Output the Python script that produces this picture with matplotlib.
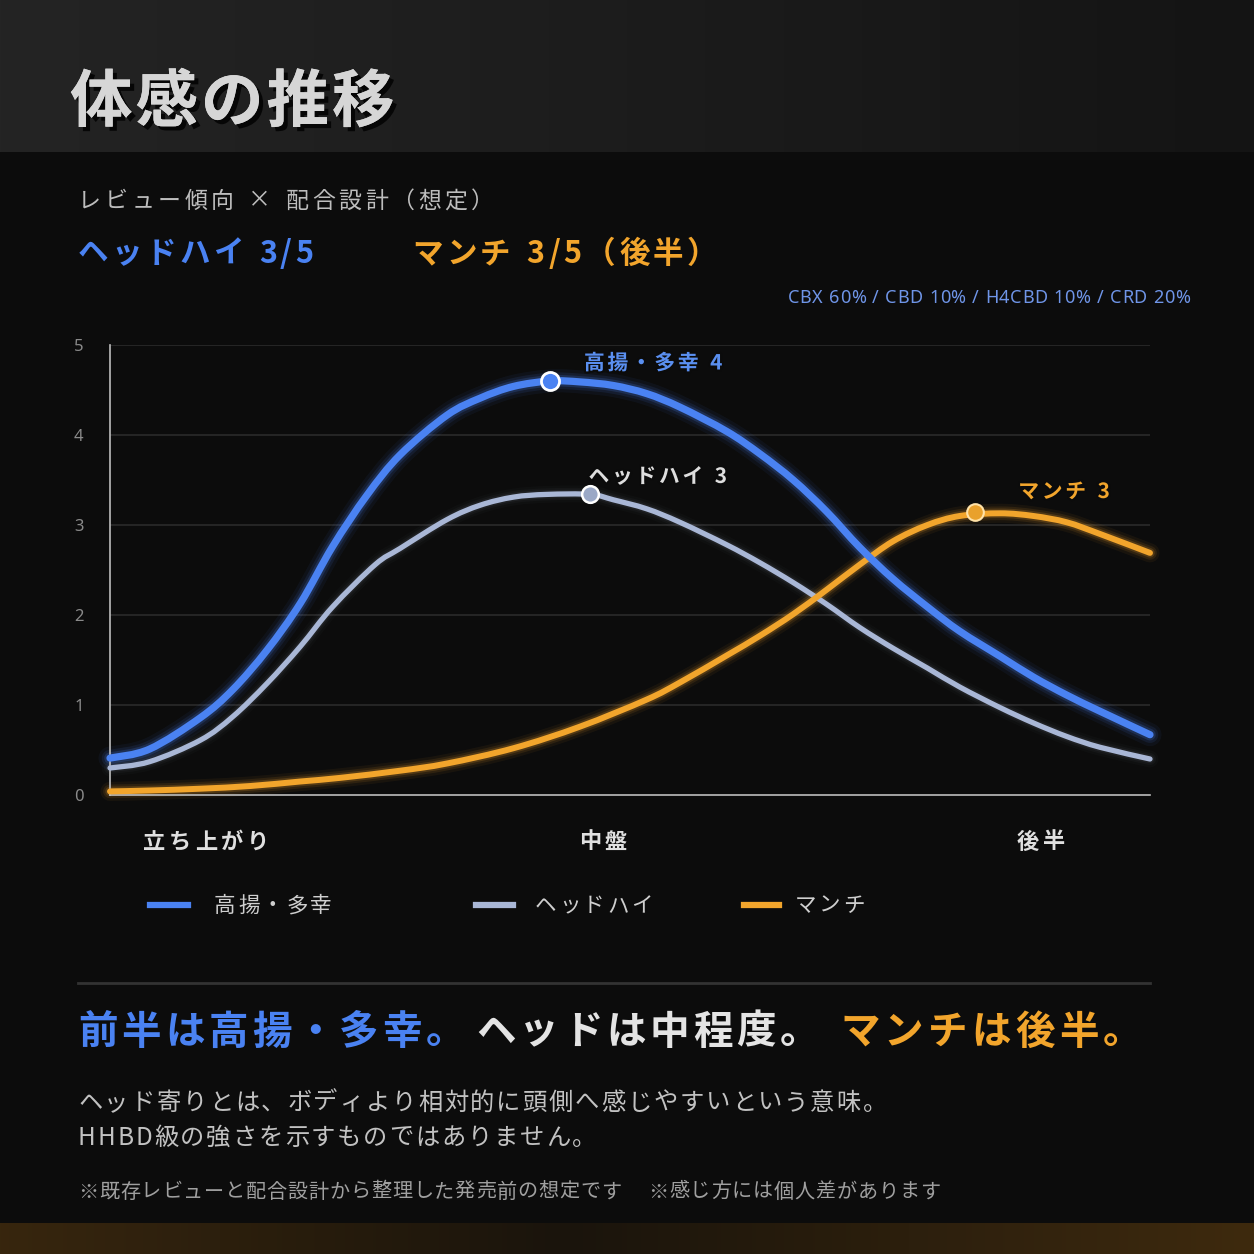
import numpy as np
import matplotlib
matplotlib.use("Agg")
import matplotlib.pyplot as plt
import matplotlib.patheffects as pe
from matplotlib.path import Path
from matplotlib.patches import PathPatch

plt.rcParams['font.family'] = ['Noto Sans CJK JP', 'DejaVu Sans']

# ---------------- data ----------------
# timeline position (0 = start, 100 = end)
t_blue = [0, 3.8, 8.7, 11.8, 15.1, 18.3, 21.4, 24.7, 27.9, 32.4, 35.6, 38.8, 42.3, 45.2,
          48.4, 51.6, 54.8, 59.3, 62.5, 65.7, 68.9, 72.1, 75.3, 78.6, 81.7, 85.6, 88.8,
          92.0, 95.2, 100]
v_blue = [0.41, 0.51, 0.86, 1.17, 1.61, 2.13, 2.76, 3.33, 3.78, 4.22, 4.41, 4.54, 4.60, 4.59,
          4.55, 4.46, 4.31, 4.04, 3.79, 3.50, 3.15, 2.75, 2.40, 2.09, 1.82, 1.54, 1.31,
          1.11, 0.93, 0.67]

t_gray = [0, 3.8, 8.7, 11.8, 15.1, 18.3, 21.4, 25.5, 27.9, 32.4, 35.6, 38.8, 42.0, 46.2,
          48.4, 51.6, 54.8, 59.3, 62.5, 65.7, 68.9, 72.1, 75.3, 78.6, 81.7, 85.6, 88.8,
          92.0, 95.2, 100]
v_gray = [0.30, 0.37, 0.61, 0.87, 1.24, 1.65, 2.09, 2.56, 2.74, 3.06, 3.22, 3.31, 3.34, 3.34,
          3.28, 3.18, 3.03, 2.78, 2.58, 2.36, 2.12, 1.86, 1.63, 1.41, 1.20, 0.97, 0.80,
          0.65, 0.53, 0.40]

t_orange = [0, 3.8, 8.7, 13.5, 18.3, 22.1, 27.9, 32.4, 38.8, 45.2, 51.6, 54.8, 59.3, 62.5,
            65.7, 68.9, 72.1, 75.3, 78.6, 81.7, 85.6, 88.8, 92.0, 95.2, 100]
v_orange = [0.04, 0.05, 0.07, 0.10, 0.15, 0.19, 0.27, 0.35, 0.52, 0.76, 1.06, 1.25, 1.55, 1.77,
            2.01, 2.28, 2.56, 2.82, 3.00, 3.10, 3.13, 3.10, 3.03, 2.90, 2.69]

# highlighted points
peak_t = [42.3, 46.2, 83.2]
peak_v = [4.60, 3.34, 3.15]
peak_labels = ['高揚・多幸 4', 'ヘッドハイ 3', 'マンチ 3']

series_names = ['高揚・多幸', 'ヘッドハイ', 'マンチ']
phase_labels = ['立ち上がり', '中盤', '後半']
y_ticks = [0, 1, 2, 3, 4, 5]

BLUE = '#4a82f2'
GRAY = '#a9b7d6'
ORANGE = '#f2a52c'

W = H = 1254
fig = plt.figure(figsize=(W / 100, H / 100), dpi=100)
fig.patch.set_facecolor('#0c0c0c')
R = fig.canvas.get_renderer()


def tracked(x, y, s, size, color, weight='normal', track=0.0, ha='left', family=None, effects=None, z=5):
    """Draw text char by char with extra spacing; x, y in figure pixels from top-left."""
    kw = dict(fontsize=size, fontweight=weight, color=color, va='center', ha='left', zorder=z)
    if family:
        kw['family'] = family
    widths = []
    for ch in s:
        if ch == ' ':
            widths.append(size * 100 / 72 * 0.3)
            continue
        tmp = fig.text(0, 0, ch, **kw)
        widths.append(tmp.get_window_extent(R).width)
        tmp.remove()
    total = sum(widths) + track * (len(s) - 1)
    if ha == 'right':
        x -= total
    elif ha == 'center':
        x -= total / 2
    for ch, w in zip(s, widths):
        if ch != ' ':
            t = fig.text(x / W, 1 - y / H, ch, **kw)
            if effects:
                t.set_path_effects(effects)
        x += w + track


# ---------------- background ----------------
bg = np.zeros((H, W, 3))
bg[:, :] = np.array([12, 12, 12]) / 255
xs = np.linspace(0, 1, W)
hdr = (np.array([36, 36, 36])[None, :] * (1 - xs[:, None]) + np.array([20, 20, 20])[None, :] * xs[:, None]) / 255
bg[:152, :, :] = hdr[None, :, :]
wgt = np.clip(np.abs(xs - 0.45) / 0.55, 0, 1)[:, None]
strip = (np.array([26, 20, 12])[None, :] * (1 - wgt) + np.array([62, 42, 14])[None, :] * wgt) / 255
bg[1223:, :, :] = strip[None, :, :]
bax = fig.add_axes([0, 0, 1, 1], zorder=-10)
bax.imshow(bg, aspect='auto', extent=[0, 1, 0, 1], origin='upper')
bax.axis('off')

# ---------------- header texts ----------------
tracked(70, 103, '体感の推移', 45, '#d6d6d6', weight='bold', track=3,
        effects=[pe.withSimplePatchShadow(offset=(3, -3), shadow_rgbFace='black', alpha=0.8), pe.Normal()])
tracked(78, 201, 'レビュー傾向 × 配合設計（想定）', 16.5, '#bdbdbd', track=3.7)
tracked(78, 254, 'ヘッドハイ 3/5', 22, BLUE, weight='bold', track=3.2)
tracked(412, 254, 'マンチ 3/5（後半）', 22, ORANGE, weight='bold', track=3.5)
tracked(1190, 298, 'CBX 60% / CBD 10% / H4CBD 10% / CRD 20%', 13, '#6f95e8', track=0.5,
        ha='right', family=['Noto Sans', 'DejaVu Sans'])

# ---------------- chart ----------------
ax = fig.add_axes([110 / W, 1 - 795 / H, 1040 / W, 450 / H])
ax.set_facecolor('none')
ax.set_xlim(0, 100)
ax.set_ylim(0, 5)
for s in ['top', 'right']:
    ax.spines[s].set_visible(False)
for s in ['left', 'bottom']:
    ax.spines[s].set_color('#bdbdbd')
    ax.spines[s].set_linewidth(1.2)
ax.set_yticks(y_ticks)
ax.set_yticklabels([str(v) for v in y_ticks], family=['Noto Sans', 'DejaVu Sans'])
ax.tick_params(axis='y', length=0, pad=19, labelsize=12, labelcolor='#8a8a8a')
ax.set_xticks([])
for v in y_ticks[1:]:
    ax.axhline(v, color='#2b2b2b', lw=1.2, zorder=0)


def smooth_path(t, v):
    pts = np.column_stack([t, v]).astype(float)
    n = len(pts)
    verts = [pts[0]]
    codes = [Path.MOVETO]
    for i in range(n - 1):
        p0 = pts[i - 1] if i > 0 else pts[i]
        p1 = pts[i]
        p2 = pts[i + 1]
        p3 = pts[i + 2] if i + 2 < n else pts[i + 1]
        verts += [p1 + (p2 - p0) / 6, p2 - (p3 - p1) / 6, p2]
        codes += [Path.CURVE4] * 3
    return Path(verts, codes)


def glow_line(t, v, color, lw, glow):
    path = smooth_path(t, v)
    for k, a in [(3.2, 0.06 * glow), (2.3, 0.10 * glow), (1.6, 0.18 * glow)]:
        ax.add_patch(PathPatch(path, fill=False, edgecolor=color, lw=lw * k, alpha=a,
                               capstyle='round', joinstyle='round', clip_on=False, zorder=2))
    ax.add_patch(PathPatch(path, fill=False, edgecolor=color, lw=lw, capstyle='round',
                           joinstyle='round', clip_on=False, zorder=3))


glow_line(t_gray, v_gray, GRAY, 3.8, 0.4)
glow_line(t_orange, v_orange, ORANGE, 4.3, 1.0)
glow_line(t_blue, v_blue, BLUE, 5.2, 1.0)

ax.plot(peak_t[0], peak_v[0], 'o', ms=13, mfc=BLUE, mec='white', mew=2, zorder=5, clip_on=False)
ax.plot(peak_t[1], peak_v[1], 'o', ms=12, mfc='#9aa8c6', mec='white', mew=1.8, zorder=5, clip_on=False)
ax.plot(peak_t[2], peak_v[2], 'o', ms=12, mfc='#e9a12c', mec='#ffe2a8', mew=1.5, zorder=5, clip_on=False)

lab_cols = ['#5a8ff0', '#dedede', ORANGE]
lab_off = [(34, -18), (-2, -18), (43, -20)]
for i in range(3):
    xd, yd = ax.transData.transform((peak_t[i], peak_v[i]))
    tracked(xd + lab_off[i][0], (H - yd) + lab_off[i][1], peak_labels[i], 15, lab_cols[i],
            weight='bold', track=2.6, effects=[pe.withStroke(linewidth=3, foreground='#0b0b0b')], z=6)

# phase labels
phase_x = [206, 603, 1041]
for lbl, x in zip(phase_labels, phase_x):
    tracked(x, 842, lbl, 16, '#e0e0e0', weight='bold', track=3.6, ha='center')

# legend
leg_cols = [BLUE, GRAY, ORANGE]
leg_bar = [(150, 188), (476, 513), (744, 779)]
leg_txt = [214, 535, 795]
for i in range(3):
    x0, x1 = leg_bar[i]
    fig.add_artist(plt.Line2D([x0 / W, x1 / W], [1 - 905 / H] * 2, color=leg_cols[i], lw=4.5,
                              transform=fig.transFigure))
    tracked(leg_txt[i], 906, series_names[i], 15.5, '#cfcfcf', track=2.5)

# separator
fig.add_artist(plt.Line2D([78 / W, 1150 / W], [1 - 983 / H] * 2, color='#333333', lw=2,
                          transform=fig.transFigure))

# bottom texts
tracked(78, 1032, '前半は高揚・多幸。', 28.5, BLUE, weight='bold', track=3.8)
tracked(476, 1032, 'ヘッドは中程度。', 28.5, '#e4e4e4', weight='bold', track=3.8)
tracked(840, 1032, 'マンチは後半。', 28.5, ORANGE, weight='bold', track=4.2)
tracked(78, 1103, 'ヘッド寄りとは、ボディより相対的に頭側へ感じやすいという意味。', 17.5, '#c2c2c2', track=1.9)
tracked(78, 1138, 'HHBD級の強さを示すものではありません。', 17.5, '#c2c2c2', track=1.9)
tracked(78, 1192, '※既存レビューと配合設計から整理した発売前の想定です', 14.5, '#a0a0a0', track=0.8)
tracked(648, 1192, '※感じ方には個人差があります', 14.5, '#a0a0a0', track=0.8)

fig.savefig('out.png', dpi=100, facecolor=fig.get_facecolor())
